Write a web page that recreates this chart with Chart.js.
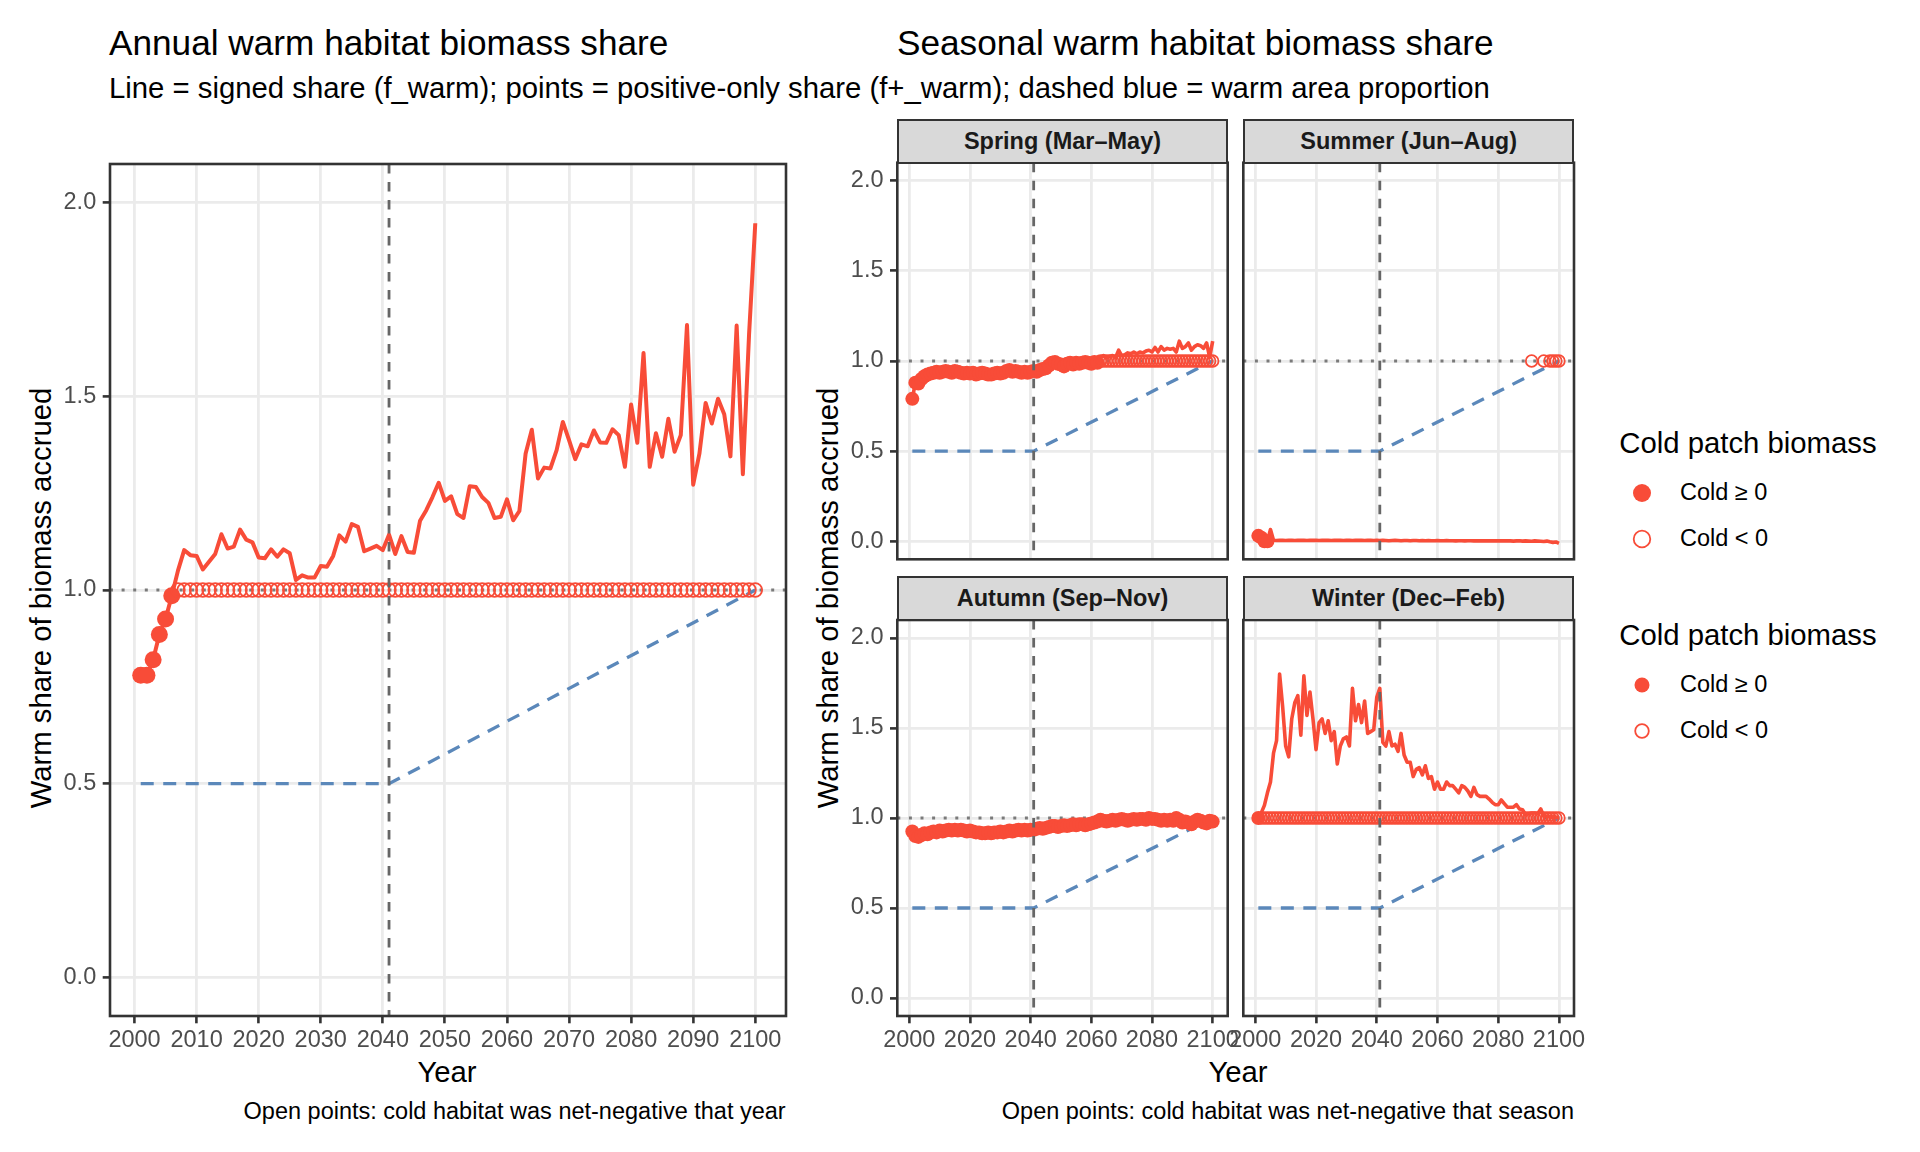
<!DOCTYPE html>
<html>
<head>
<meta charset="utf-8">
<script src="https://cdn.jsdelivr.net/npm/chart.js@4.4.1/dist/chart.umd.min.js"></script>
<style>
  html, body { margin: 0; padding: 0; background: #ffffff; }
  body { width: 1920px; height: 1152px; position: relative; overflow: hidden;
         font-family: "Liberation Sans", Arial, Helvetica, sans-serif; }
  .t { position: absolute; white-space: nowrap; line-height: 1; color: #000; }
  canvas { position: absolute; }
  .strip { position: absolute; background: #D9D9D9; border: 2.5px solid #333333; box-sizing: border-box;
           display: flex; align-items: center; justify-content: center;
           font-weight: bold; font-size: 23.5px; color: #1A1A1A; z-index: 5; }
</style>
</head>
<body>

<div class="t" style="left:109px;top:43.4px;transform:translateY(-50%);font-size:35.2px">Annual warm habitat biomass share</div>
<div class="t" style="left:897px;top:43.4px;transform:translateY(-50%);font-size:35.2px">Seasonal warm habitat biomass share</div>
<div class="t" style="left:109px;top:88px;transform:translateY(-50%);font-size:29.3px">Line = signed share (f_warm); points = positive-only share (f+_warm); dashed blue = warm area proportion</div>

<div class="t" style="left:41px;top:598px;transform:translate(-50%,-50%) rotate(-90deg);font-size:29.3px">Warm share of biomass accrued</div>
<div class="t" style="left:828px;top:598px;transform:translate(-50%,-50%) rotate(-90deg);font-size:29.3px">Warm share of biomass accrued</div>
<div class="t" style="left:447px;top:1071.7px;transform:translate(-50%,-50%);font-size:29.3px">Year</div>
<div class="t" style="left:1238px;top:1071.7px;transform:translate(-50%,-50%);font-size:29.3px">Year</div>
<div class="t" style="right:1134.3px;top:1111.7px;transform:translateY(-50%);font-size:23.5px">Open points: cold habitat was net-negative that year</div>
<div class="t" style="right:346px;top:1111.7px;transform:translateY(-50%);font-size:23.5px">Open points: cold habitat was net-negative that season</div>

<div id="legends"></div>

<script>
// ---------------- DATA ----------------
const firstYear = 2001;   // series below run 2001..2100, one value per year

// Annual signed warm share f_warm (line)
const annualShare = [
  0.78, 0.78, 0.82, 0.885, 0.925, 0.985, 1.05, 1.103, 1.09, 1.088,
  1.053, 1.073, 1.093, 1.144, 1.107, 1.112, 1.156, 1.13, 1.123, 1.084,
  1.082, 1.105, 1.086, 1.105, 1.095, 1.026, 1.038, 1.032, 1.032, 1.062,
  1.06, 1.088, 1.141, 1.125, 1.17, 1.163, 1.10, 1.107, 1.114, 1.103,
  1.143, 1.093, 1.139, 1.098, 1.096, 1.179, 1.206, 1.24, 1.277, 1.23,
  1.242, 1.196, 1.186, 1.268, 1.266, 1.24, 1.225, 1.186, 1.189, 1.234,
  1.18, 1.204, 1.352, 1.414, 1.288, 1.316, 1.314, 1.361, 1.434, 1.387,
  1.338, 1.376, 1.371, 1.412, 1.381, 1.38, 1.415, 1.40, 1.318, 1.479,
  1.38, 1.612, 1.318, 1.405, 1.344, 1.442, 1.357, 1.40, 1.684, 1.272,
  1.352, 1.483, 1.43, 1.494, 1.454, 1.345, 1.683, 1.299, 1.66, 1.947
];
// Point kind per year: f = cold >= 0 (filled, f+ = f), o = cold < 0 (open, f+ = 1), . = no point
const annualPointKind = [
  "ffffffoooo", "oooooooooo", "oooooooooo", "oooooooooo", "oooooooooo",
  "oooooooooo", "oooooooooo", "oooooooooo", "oooooooooo", "oooooooooo"
].join("");

const springShare = [
  0.79, 0.88, 0.875, 0.90, 0.915, 0.925, 0.93, 0.935, 0.94, 0.935,
  0.94, 0.945, 0.94, 0.935, 0.945, 0.94, 0.935, 0.93, 0.935, 0.93,
  0.935, 0.925, 0.93, 0.935, 0.93, 0.925, 0.925, 0.93, 0.935, 0.93,
  0.935, 0.945, 0.95, 0.94, 0.945, 0.94, 0.935, 0.94, 0.935, 0.94,
  0.945, 0.94, 0.95, 0.955, 0.96, 0.975, 0.99, 0.995, 0.985, 0.98,
  0.97, 0.985, 0.99, 0.98, 0.99, 0.985, 0.99, 0.995, 0.99, 0.985,
  0.995, 0.99, 1.02, 1.03, 1.02, 1.025, 1.03, 1.02, 1.06, 1.03,
  1.035, 1.045, 1.04, 1.05, 1.04, 1.05, 1.045, 1.055, 1.06, 1.05,
  1.075, 1.05, 1.08, 1.06, 1.07, 1.065, 1.07, 1.05, 1.11, 1.07,
  1.08, 1.10, 1.06, 1.08, 1.09, 1.085, 1.07, 1.10, 1.02, 1.11
];
const springPointKind = [
  "ffffffffff", "ffffffffff", "ffffffffff", "ffffffffff", "ffffffffff",
  "ffffffffff", "ffoooooooo", "oooooooooo", "oooooooooo", "oooooooooo"
].join("");

const summerShare = [
  0.03, 0.02, 0.0, 0.0, 0.065, 0.006, 0.004, 0.006, 0.005, 0.004,
  0.005, 0.006, 0.004, 0.005, 0.006, 0.005, 0.004, 0.006, 0.005, 0.005,
  0.004, 0.005, 0.006, 0.005, 0.004, 0.005, 0.006, 0.005, 0.004, 0.005,
  0.005, 0.004, 0.005, 0.006, 0.005, 0.004, 0.005, 0.005, 0.004, 0.005,
  0.004, 0.005, 0.004, 0.003, 0.004, 0.005, 0.004, 0.003, 0.004, 0.004,
  0.003, 0.004, 0.004, 0.003, 0.004, 0.003, 0.004, 0.003, 0.003, 0.004,
  0.003, 0.003, 0.004, 0.003, 0.003, 0.002, 0.003, 0.003, 0.002, 0.003,
  0.003, 0.002, 0.003, 0.002, 0.003, 0.002, 0.002, 0.003, 0.002, 0.002,
  0.002, 0.003, 0.002, 0.002, 0.001, 0.002, 0.003, 0.001, 0.002, 0.001,
  0.0, 0.002, 0.001, 0.0, -0.001, 0.001, -0.003, -0.006, -0.004, -0.012
];
const summerPointKind = [
  "ffff......", "..........", "..........", "..........", "..........",
  "..........", "..........", "..........", "..........", "o...o.oooo"
].join("");

const autumnShare = [
  0.925, 0.90, 0.895, 0.905, 0.915, 0.91, 0.92, 0.925, 0.92, 0.93,
  0.925, 0.93, 0.935, 0.93, 0.935, 0.93, 0.935, 0.93, 0.925, 0.93,
  0.925, 0.92, 0.92, 0.915, 0.915, 0.92, 0.915, 0.92, 0.92, 0.925,
  0.92, 0.925, 0.93, 0.925, 0.93, 0.935, 0.93, 0.935, 0.93, 0.935,
  0.935, 0.94, 0.945, 0.94, 0.945, 0.95, 0.955, 0.955, 0.95, 0.955,
  0.96, 0.955, 0.96, 0.965, 0.96, 0.965, 0.965, 0.96, 0.965, 0.97,
  0.975, 0.98, 0.99, 0.985, 0.98, 0.985, 0.99, 0.985, 0.99, 0.995,
  0.99, 0.985, 0.99, 0.995, 0.99, 0.995, 0.995, 0.99, 1.0, 0.995,
  0.995, 0.99, 0.985, 0.99, 0.985, 0.99, 0.985, 1.0, 0.99, 0.975,
  0.98, 0.975, 0.965, 0.98, 0.99, 0.985, 0.975, 0.97, 0.985, 0.98
];
const autumnPointKind = [
  "ffffffffff", "ffffffffff", "ffffffffff", "ffffffffff", "ffffffffff",
  "ffffffffff", "ffffffffff", "ffffffffff", "ffffffffff", "ffffffffff"
].join("");

const winterShare = [
  1.0, 1.03, 1.07, 1.14, 1.2, 1.36, 1.43, 1.80, 1.62, 1.40,
  1.34, 1.55, 1.64, 1.68, 1.46, 1.79, 1.57, 1.70, 1.55, 1.38,
  1.53, 1.55, 1.47, 1.54, 1.43, 1.48, 1.30, 1.40, 1.44, 1.45,
  1.40, 1.72, 1.54, 1.63, 1.53, 1.65, 1.47, 1.48, 1.49, 1.67,
  1.72, 1.42, 1.40, 1.48, 1.40, 1.41, 1.37, 1.47, 1.35, 1.31,
  1.31, 1.23, 1.27, 1.28, 1.24, 1.29, 1.22, 1.23, 1.16, 1.20,
  1.16, 1.16, 1.20, 1.18, 1.18, 1.16, 1.14, 1.18, 1.17, 1.15,
  1.12, 1.17, 1.13, 1.12, 1.12, 1.12, 1.105, 1.087, 1.074, 1.074,
  1.10, 1.08, 1.06, 1.06, 1.06, 1.074, 1.05, 1.046, 1.018, 1.024,
  1.028, 1.028, 1.024, 1.05, 1.01, 1.01, 1.005, 1.005, 1.005, 1.0
];
const winterPointKind = [
  "fooooooooo", "oooooooooo", "oooooooooo", "oooooooooo", "oooooooooo",
  "oooooooooo", "oooooooooo", "oooooooooo", "oooooooooo", "oooooooooo"
].join("");

const seasonLabels = ["Spring (Mar\u2013May)", "Summer (Jun\u2013Aug)", "Autumn (Sep\u2013Nov)", "Winter (Dec\u2013Feb)"];

// Warm area proportion (dashed blue): break points
const areaYears = [2001, 2041, 2100];
const areaShare = [0.5, 0.5, 1.0];

const referenceYear = 2041;          // vertical dashed line
const parityShare = 1.0;             // dotted horizontal line
const positiveOnlyCap = 1.0;         // f+ when cold < 0

const annualXTicks = [2000, 2010, 2020, 2030, 2040, 2050, 2060, 2070, 2080, 2090, 2100];
const seasonalXTicks = [2000, 2020, 2040, 2060, 2080, 2100];
const yTicks = [0, 0.5, 1.0, 1.5, 2.0];

const legendTitle = "Cold patch biomass";
const legendLabels = ["Cold \u2265 0", "Cold < 0"];

// ---------------- STYLE ----------------
const FONT = '"Liberation Sans", Arial, Helvetica, sans-serif';
const RED = "#F84C38";
const BLUE = "#5B88BA";
const GRID = "#EBEBEB";
const X_MIN = 1996.05, X_MAX = 2104.95, Y_MIN = -0.1, Y_MAX = 2.1;

Chart.defaults.font.family = FONT;

const panelDecor = {
  id: 'panelDecor',
  beforeDatasetsDraw(chart) {
    const { ctx, chartArea: a, scales: { y } } = chart;
    const py = y.getPixelForValue(parityShare);
    ctx.save();
    ctx.beginPath(); ctx.rect(a.left, a.top, a.right - a.left, a.bottom - a.top); ctx.clip();
    ctx.strokeStyle = "#7A7A7A"; ctx.lineWidth = 3; ctx.setLineDash([3, 8.6]); ctx.lineCap = "butt";
    ctx.beginPath(); ctx.moveTo(a.left, py); ctx.lineTo(a.right, py); ctx.stroke();
    ctx.restore();
  },
  afterDatasetsDraw(chart) {
    const { ctx, chartArea: a, scales: { x } } = chart;
    const px = x.getPixelForValue(referenceYear);
    ctx.save();
    ctx.strokeStyle = "#666666"; ctx.lineWidth = 2.8; ctx.setLineDash([9.5, 8.5]); ctx.lineCap = "butt";
    ctx.beginPath(); ctx.moveTo(px, a.top); ctx.lineTo(px, a.bottom); ctx.stroke();
    ctx.setLineDash([]);
    ctx.strokeStyle = "#333333"; ctx.lineWidth = 2.6;
    ctx.strokeRect(a.left, a.top, a.right - a.left, a.bottom - a.top);
    ctx.restore();
  }
};

function lineData(share) { return share.map((v, i) => ({ x: firstYear + i, y: v })); }
function pointData(share, kind) {
  const filled = [], open = [];
  share.forEach((v, i) => {
    if (kind[i] === 'f') filled.push({ x: firstYear + i, y: v });
    else if (kind[i] === 'o') open.push({ x: firstYear + i, y: positiveOnlyCap });
  });
  return { filled, open };
}

function makePanel(p) {
  const cv = document.createElement('canvas');
  cv.width = p.cw; cv.height = p.ch;
  cv.style.left = p.cl + 'px'; cv.style.top = p.ct + 'px';
  cv.style.width = p.cw + 'px'; cv.style.height = p.ch + 'px';
  document.body.appendChild(cv);
  const yW = p.showY ? p.area.l - p.cl : 0;
  const xH = p.showX ? (p.ct + p.ch) - p.area.b : 0;
  const padding = {
    left: p.showY ? 0 : p.area.l - p.cl,
    top: p.area.t - p.ct,
    right: (p.cl + p.cw) - p.area.r,
    bottom: p.showX ? 0 : (p.ct + p.ch) - p.area.b
  };
  const pts = pointData(p.share, p.kind);
  const area = areaYears.map((yr, i) => ({ x: yr, y: areaShare[i] }));
  const tickFont = { size: 23.5, family: FONT };
  new Chart(cv, {
    type: 'scatter',
    data: {
      datasets: [
        { label: 'open', data: pts.open, order: 1, showLine: false, pointRadius: p.rOpen, pointHoverRadius: p.rOpen,
          pointBackgroundColor: 'rgba(0,0,0,0)', pointBorderColor: RED, pointBorderWidth: 1.8 },
        { label: 'filled', data: pts.filled, order: 2, showLine: false, pointRadius: p.rFill, pointHoverRadius: p.rFill,
          pointBackgroundColor: RED, pointBorderColor: RED, pointBorderWidth: 0 },
        { label: 'share', data: lineData(p.share), order: 3, showLine: true, pointRadius: 0, borderColor: RED,
          borderWidth: p.lw, tension: 0, borderJoinStyle: 'round', fill: false },
        { label: 'area', data: area, order: 4, showLine: true, pointRadius: 0, borderColor: BLUE,
          borderWidth: 3.3, borderDash: [13, 9.5], tension: 0, fill: false }
      ]
    },
    options: {
      responsive: false, animation: false, events: [],
      layout: { padding },
      plugins: { legend: { display: false }, tooltip: { enabled: false } },
      scales: {
        x: {
          type: 'linear', min: X_MIN, max: X_MAX,
          afterBuildTicks: s => { s.ticks = p.xTicks.map(v => ({ value: v })); },
          afterFit: s => { s.height = xH; },
          border: { display: false },
          grid: { color: GRID, lineWidth: 2.8, drawTicks: p.showX, tickLength: 7.3, tickColor: '#333333', tickWidth: 2.6 },
          ticks: { display: p.showX, autoSkip: false, maxRotation: 0, minRotation: 0, padding: 3,
                   color: '#4D4D4D', font: tickFont, callback: v => String(v) }
        },
        y: {
          type: 'linear', min: Y_MIN, max: Y_MAX,
          afterBuildTicks: s => { s.ticks = yTicks.map(v => ({ value: v })); },
          afterFit: s => { s.width = yW; },
          border: { display: false },
          grid: { color: GRID, lineWidth: 2.8, drawTicks: p.showY, tickLength: 7.3, tickColor: '#333333', tickWidth: 2.6 },
          ticks: { display: p.showY, padding: 6.5, color: '#4D4D4D', font: tickFont, callback: v => Number(v).toFixed(1) }
        }
      }
    },
    plugins: [panelDecor]
  });
}

// Annual panel
makePanel({ cl: 0, ct: 124, cw: 800, ch: 976, area: { l: 110, t: 164, r: 786, b: 1016 },
  showX: true, showY: true, xTicks: annualXTicks, share: annualShare, kind: annualPointKind,
  lw: 4.0, rFill: 8.5, rOpen: 6.8 });

// Seasonal facets
const facetCols = [{ l: 897.3, r: 1227.7 }, { l: 1243.3, r: 1574 }];
const facetRows = [{ st: 119, t: 162.7, b: 559.3 }, { st: 575.7, t: 620, b: 1016 }];
const seasonShares = [springShare, summerShare, autumnShare, winterShare];
const seasonKinds = [springPointKind, summerPointKind, autumnPointKind, winterPointKind];

seasonLabels.forEach((lab, i) => {
  const col = facetCols[i % 2], row = facetRows[Math.floor(i / 2)];
  const left = i % 2 === 0, bottom = i >= 2;
  const cl = left ? 830 : 1180, cr = left ? 1300 : 1640;
  const ct = bottom ? 590 : 124, cb = bottom ? 1100 : 590;
  makePanel({ cl, ct, cw: cr - cl, ch: cb - ct, area: { l: col.l, t: row.t, r: col.r, b: row.b },
    showX: bottom, showY: left, xTicks: seasonalXTicks, share: seasonShares[i], kind: seasonKinds[i],
    lw: 3.6, rFill: 7, rOpen: 5.8 });
  const s = document.createElement('div');
  s.className = 'strip';
  s.style.left = col.l + 'px'; s.style.top = row.st + 'px';
  s.style.width = (col.r - col.l) + 'px'; s.style.height = (row.t - row.st + 1.2) + 'px';
  s.textContent = lab;
  document.body.appendChild(s);
});

// Legends (two identical keys, as in the figure)
const legendSpecs = [
  { titleY: 443.3, rowY: [492.7, 539.3], rF: 9, rO: 8.3 },
  { titleY: 635, rowY: [685, 730.7], rF: 7.5, rO: 6.8 }
];
const legRoot = document.getElementById('legends');
legendSpecs.forEach(spec => {
  const t = document.createElement('div');
  t.className = 't';
  t.style.cssText = `left:1619.3px;top:${spec.titleY}px;transform:translateY(-50%);font-size:29.3px`;
  t.textContent = legendTitle;
  legRoot.appendChild(t);
  legendLabels.forEach((lab, k) => {
    const cy = spec.rowY[k];
    const svg = document.createElementNS('http://www.w3.org/2000/svg', 'svg');
    svg.setAttribute('width', 30); svg.setAttribute('height', 30);
    svg.style.cssText = `position:absolute;left:${1641.7 - 15}px;top:${cy - 15}px`;
    const c = document.createElementNS('http://www.w3.org/2000/svg', 'circle');
    c.setAttribute('cx', 15); c.setAttribute('cy', 15);
    if (k === 0) { c.setAttribute('r', spec.rF); c.setAttribute('fill', RED); }
    else { c.setAttribute('r', spec.rO); c.setAttribute('fill', 'none'); c.setAttribute('stroke', RED); c.setAttribute('stroke-width', 1.8); }
    svg.appendChild(c);
    legRoot.appendChild(svg);
    const l = document.createElement('div');
    l.className = 't';
    l.style.cssText = `left:1680px;top:${cy}px;transform:translateY(-50%);font-size:23.5px`;
    l.textContent = lab;
    legRoot.appendChild(l);
  });
});
</script>
</body>
</html>
